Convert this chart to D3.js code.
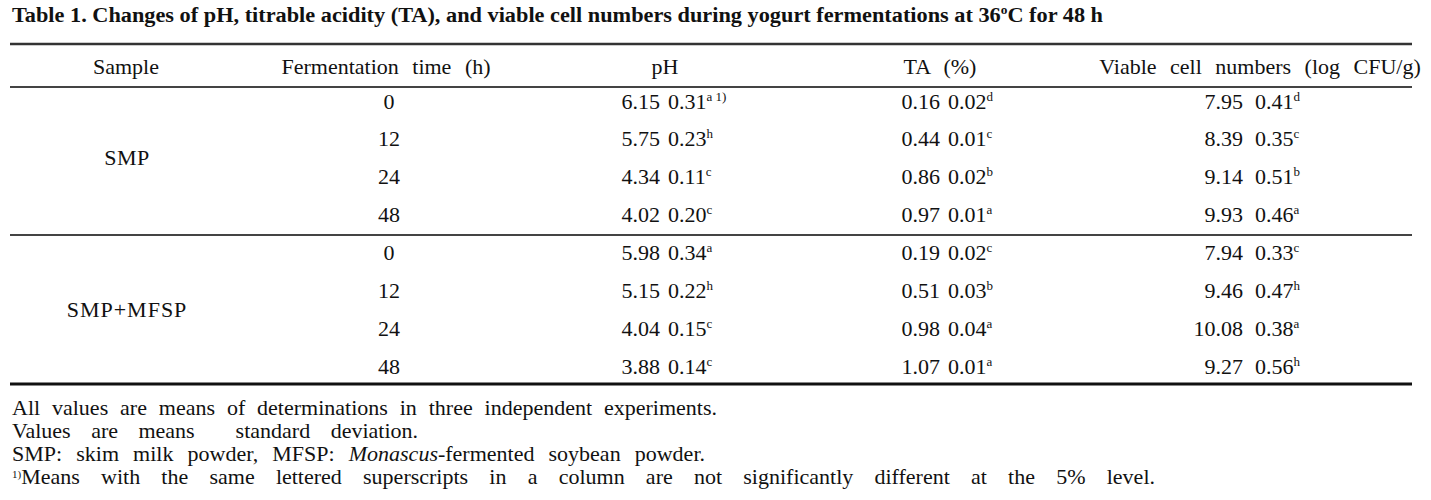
<!DOCTYPE html>
<html><head><meta charset="utf-8">
<script src="https://cdn.jsdelivr.net/npm/d3@7"></script>
<style>
html,body{margin:0;padding:0;background:#fff;}
text{font-family:"Liberation Serif","DejaVu Serif",serif;fill:#111;white-space:pre;}
</style></head>
<body><svg id="c" width="1431" height="500"></svg>
<script>
const titleText = "Table 1. Changes of pH, titrable acidity (TA), and viable cell numbers during yogurt fermentations at 36";
const headers = ["Sample", "Fermentation time (h)", "pH", "TA (%)", "Viable cell numbers (log CFU/g)"];
const samples = ["SMP", "SMP+MFSP"];
const times = ["0", "12", "24", "48", "0", "12", "24", "48"];
const phMean = ["6.15", "5.75", "4.34", "4.02", "5.98", "5.15", "4.04", "3.88"];
const phSd   = ["0.31", "0.23", "0.11", "0.20", "0.34", "0.22", "0.15", "0.14"];
const phSup  = ["a 1)", "h", "c", "c", "a", "h", "c", "c"];
const taMean = ["0.16", "0.44", "0.86", "0.97", "0.19", "0.51", "0.98", "1.07"];
const taSd   = ["0.02", "0.01", "0.02", "0.01", "0.02", "0.03", "0.04", "0.01"];
const taSup  = ["d", "c", "b", "a", "c", "b", "a", "a"];
const vcMean = ["7.95", "8.39", "9.14", "9.93", "7.94", "9.46", "10.08", "9.27"];
const vcSd   = ["0.41", "0.35", "0.51", "0.46", "0.33", "0.47", "0.38", "0.56"];
const vcSup  = ["d", "c", "b", "a", "c", "h", "a", "h"];
const notes = [
  "All values are means of determinations in three independent experiments.",
  "Values are means  standard deviation.",
  "SMP: skim milk powder, MFSP: Monascus-fermented soybean powder.",
  "Means with the same lettered superscripts in a column are not significantly different at the 5% level."
];

const svg = d3.select("#c");
const FS = 22;

// title
const t = svg.append("text").attr("x", 12).attr("y", 22).attr("font-size", 20).attr("font-weight", "bold")
  .attr("textLength", 1091).attr("lengthAdjust", "spacingAndGlyphs");
t.append("tspan").text(titleText);
t.append("tspan").attr("dy", -8).attr("font-size", 12).text("o");
t.append("tspan").attr("dy", 8).text("C for 48 h");

// rules
const xl = 10, xr = 1412;
[[44, 2.5, "#333"], [87, 2, "#444"], [235, 2, "#444"], [384, 3, "#111"]].forEach(([y, w, c]) => {
  svg.append("line").attr("x1", xl).attr("x2", xr).attr("y1", y).attr("y2", y)
    .attr("stroke", c).attr("stroke-width", w);
});

// column scale
const colX = d3.scaleOrdinal().domain(headers).range([126, 386, 665, 940, 1260]);
const rowY = d3.scalePoint().domain(d3.range(times.length)).range([101, 366]);
const off = 7.5;

headers.forEach(h => {
  svg.append("text").attr("x", colX(h)).attr("y", 66 + off).attr("text-anchor", "middle")
    .attr("font-size", FS).attr("word-spacing", 8).text(h);
});

// sample labels
samples.forEach((s, i) => {
  const yy = (rowY(i * 4 + 1) + rowY(i * 4 + 2)) / 2;
  svg.append("text").attr("x", colX(headers[0]) + 1).attr("y", yy + off).attr("text-anchor", "middle")
    .attr("font-size", FS).attr("letter-spacing", i ? 1 : 0.5).text(s);
});

// times
svg.selectAll("text.time").data(times).join("text").attr("class", "time")
  .attr("x", 389).attr("y", (d, i) => rowY(i) + off).attr("text-anchor", "middle")
  .attr("font-size", FS).text(d => d);

// value columns: mean right-aligned, sd + superscript left-aligned
const cols = [
  {mean: phMean, sd: phSd, sup: phSup, meanEnd: 660, sdStart: 668},
  {mean: taMean, sd: taSd, sup: taSup, meanEnd: 940, sdStart: 948},
  {mean: vcMean, sd: vcSd, sup: vcSup, meanEnd: 1243, sdStart: 1255}
];
cols.forEach(c => {
  c.mean.forEach((m, i) => {
    svg.append("text").attr("x", c.meanEnd).attr("y", rowY(i) + off).attr("text-anchor", "end")
      .attr("font-size", FS).text(m);
    const tx = svg.append("text").attr("x", c.sdStart).attr("y", rowY(i) + off).attr("font-size", FS);
    tx.append("tspan").text(c.sd[i]);
    tx.append("tspan").attr("dy", -8).attr("font-size", 13).text(c.sup[i]);
  });
});

// notes, justified to the reference line ends via word spacing
const noteY = [408, 431, 454, 477];
const noteEnd = [717, 418, 705, 1155];
notes.forEach((n, i) => {
  const tx = svg.append("text").attr("x", 12).attr("y", noteY[i] + 7).attr("font-size", 22);
  if (i === 2) {
    tx.append("tspan").text("SMP: skim milk powder, MFSP: ");
    tx.append("tspan").attr("font-style", "italic").text("Monascus");
    tx.append("tspan").text("-fermented soybean powder.");
  } else if (i === 3) {
    tx.append("tspan").attr("dy", -6).attr("font-size", 11).text("1)");
    tx.append("tspan").attr("dy", 6).text(n);
  } else {
    tx.text(n);
  }
  const len = tx.node().getComputedTextLength();
  const spaces = (n.match(/ /g) || []).length;
  const ws = Math.max(0, (noteEnd[i] - 12 - len) / spaces);
  tx.attr("word-spacing", ws);
});
</script></body></html>
